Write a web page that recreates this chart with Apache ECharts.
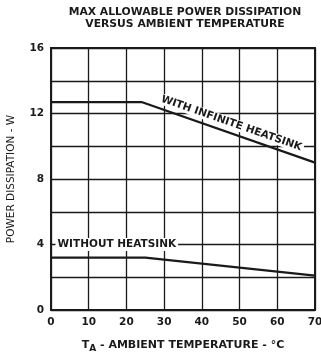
<!DOCTYPE html>
<html>
<head>
<meta charset="utf-8">
<script src="https://cdn.jsdelivr.net/npm/echarts@6/dist/echarts.min.js"></script>
<style>
  html, body { margin: 0; padding: 0; background: #fff; }
  #chart { width: 321px; height: 355px; }
</style>
</head>
<body>
<div id="chart"></div>
<script>
// ambient temperature (°C) / allowable power (W)
const infiniteTemp = [0, 24, 70]
const infinitePower = [12.7, 12.7, 9]
const noSinkTemp = [0, 25, 70]
const noSinkPower = [3.2, 3.2, 2.1]

const xTicks = [0, 10, 20, 30, 40, 50, 60, 70]
const yTicks = [0, 4, 8, 12, 16]

const FONT = 'DejaVu Sans, Verdana, sans-serif'
const INK = '#1a1a1a'

const chart = echarts.init(document.getElementById('chart'))

chart.setOption({
  animation: false,
  backgroundColor: '#fff',
  grid: { left: 51, right: 6, top: 48, bottom: 45, outerBoundsMode: 'none', containLabel: false },
  xAxis: {
    type: 'value',
    min: xTicks[0],
    max: xTicks[xTicks.length - 1],
    interval: 10,
    name: '{t|T}{s|A}{t| - AMBIENT TEMPERATURE - °C}',
    nameLocation: 'middle',
    nameGap: 28,
    nameTextStyle: {
      rich: {
        t: { fontFamily: FONT, fontSize: 11, fontWeight: 'bold', color: INK },
        s: { fontFamily: FONT, fontSize: 9, fontWeight: 'bold', color: INK, padding: [6, 0, 0, 0] }
      }
    },
    axisLine: { lineStyle: { color: INK, width: 2 } },
    axisTick: { show: false },
    axisLabel: { fontFamily: FONT, fontSize: 10.5, fontWeight: 'bold', color: INK, margin: 7 },
    splitLine: { show: true, lineStyle: { color: INK, width: 1.3 } }
  },
  yAxis: {
    type: 'value',
    min: yTicks[0],
    max: yTicks[yTicks.length - 1],
    interval: 2,
    name: 'POWER DISSIPATION - W',
    nameLocation: 'middle',
    nameGap: 34,
    nameTextStyle: { fontFamily: FONT, fontSize: 10.5, fontWeight: 'normal', color: INK },
    axisLine: { show: true, lineStyle: { color: INK, width: 2 } },
    axisTick: { show: false },
    axisLabel: {
      fontFamily: FONT, fontSize: 10.5, fontWeight: 'bold', color: INK, margin: 7,
      formatter: v => (yTicks.indexOf(v) >= 0 ? String(v) : '')
    },
    splitLine: { show: true, lineStyle: { color: INK, width: 1.3 } }
  },
  series: [
    {
      name: 'infinite',
      type: 'line',
      data: infiniteTemp.map((t, i) => [t, infinitePower[i]]),
      symbol: 'none',
      lineStyle: { color: INK, width: 2.2 },
      z: 5
    },
    {
      name: 'without',
      type: 'line',
      data: noSinkTemp.map((t, i) => [t, noSinkPower[i]]),
      symbol: 'none',
      lineStyle: { color: INK, width: 2.2 },
      z: 5
    }
  ]
})

// frame of the plot area
const tl = chart.convertToPixel({ gridIndex: 0 }, [xTicks[0], yTicks[yTicks.length - 1]])
const br = chart.convertToPixel({ gridIndex: 0 }, [xTicks[xTicks.length - 1], yTicks[0]])

// label along the sloped part of the infinite heatsink curve
const p1 = chart.convertToPixel({ gridIndex: 0 }, [infiniteTemp[1], infinitePower[1]])
const p2 = chart.convertToPixel({ gridIndex: 0 }, [infiniteTemp[2], infinitePower[2]])
const ang = Math.atan2(p2[1] - p1[1], p2[0] - p1[0])
const mx = p1[0] + (p2[0] - p1[0]) * 0.5
const my = p1[1] + (p2[1] - p1[1]) * 0.5
const wPos = chart.convertToPixel({ gridIndex: 0 }, [1.2, 4])

chart.setOption({
  graphic: [
    {
      type: 'rect',
      shape: { x: tl[0], y: tl[1], width: br[0] - tl[0], height: br[1] - tl[1] },
      style: { fill: 'none', stroke: INK, lineWidth: 2 },
      z: 10
    },
    {
      type: 'text',
      x: 185, y: 6,
      style: {
        text: 'MAX ALLOWABLE POWER DISSIPATION\nVERSUS AMBIENT TEMPERATURE',
        align: 'center',
        fontFamily: FONT, fontSize: 10.8, fontWeight: 'bold', lineHeight: 12,
        fill: INK
      }
    },
    {
      type: 'text',
      x: mx + Math.sin(ang) * 4,
      y: my - Math.cos(ang) * 4,
      rotation: -ang,
      style: {
        text: 'WITH INFINITE HEATSINK',
        align: 'center', verticalAlign: 'bottom',
        fontFamily: FONT, fontSize: 10.5, fontWeight: 'bold',
        fill: INK, backgroundColor: '#fff', padding: [0, 2, 0, 2]
      },
      z: 20
    },
    {
      type: 'text',
      x: wPos[0], y: wPos[1],
      style: {
        text: 'WITHOUT HEATSINK',
        align: 'left', verticalAlign: 'middle',
        fontFamily: FONT, fontSize: 10.5, fontWeight: 'bold',
        fill: INK, backgroundColor: '#fff', padding: [1, 2, 1, 2]
      },
      z: 20
    }
  ]
})
</script>
</body>
</html>
